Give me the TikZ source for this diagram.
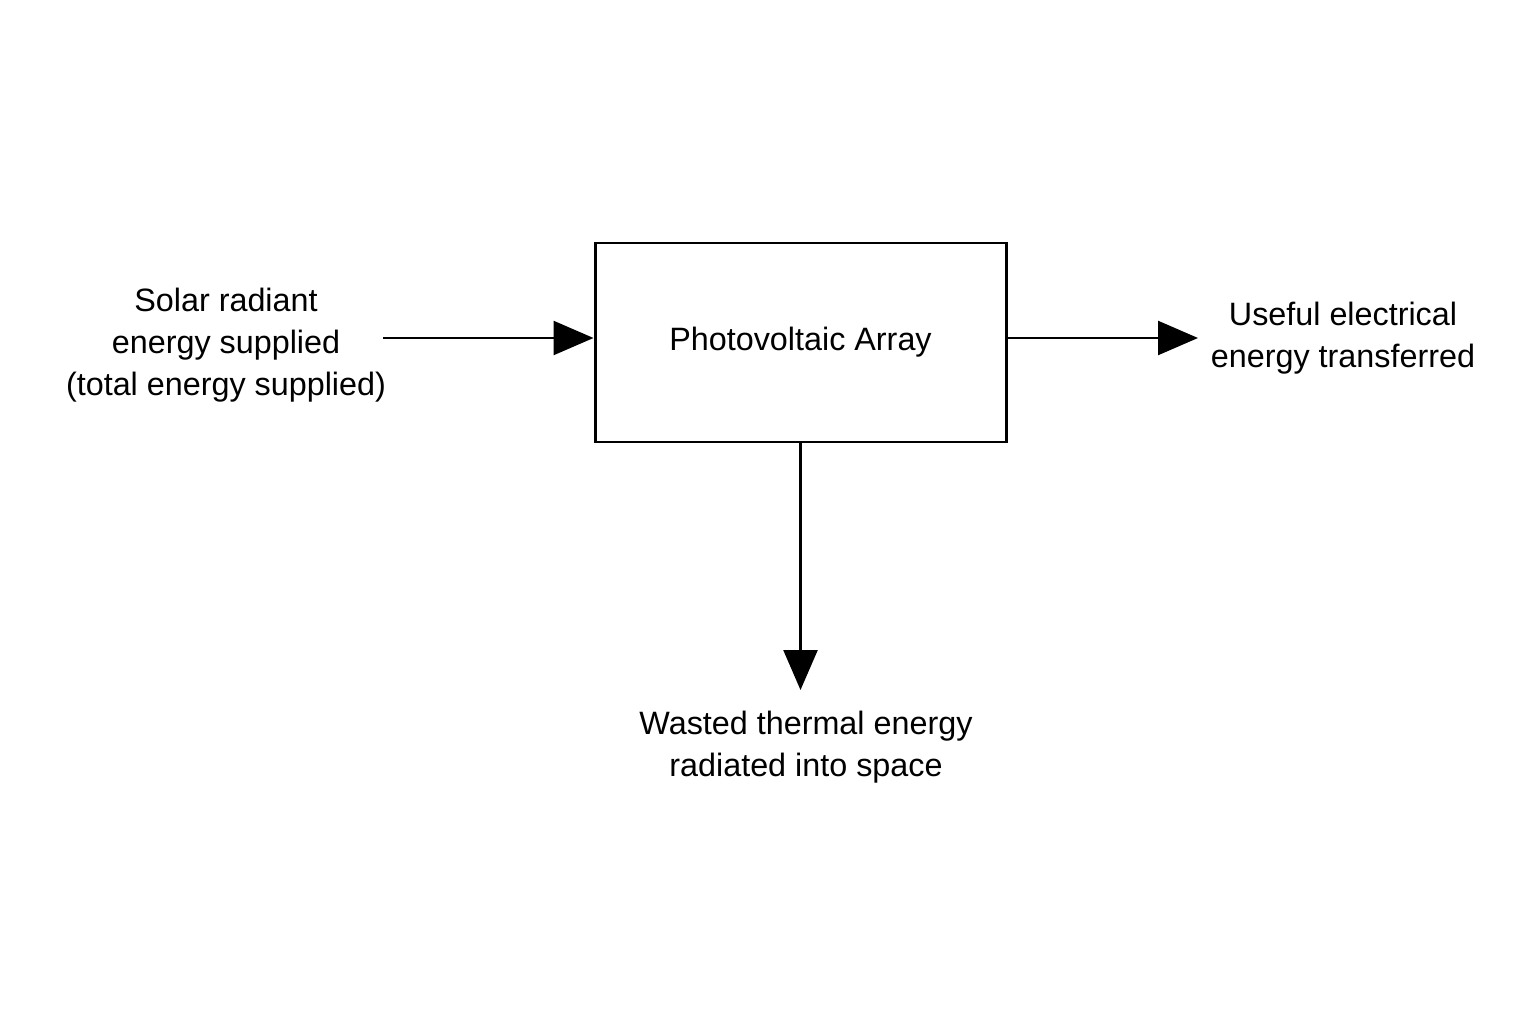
\documentclass[tikz,border=0pt]{standalone}
\usepackage{fontspec}
\setmainfont{Liberation Sans}
\usetikzlibrary{arrows.meta}
\begin{document}
\begin{tikzpicture}[
       line width=0.7pt,
       flow/.style={
         -{Triangle[length=0.4cm,width=0.34cm]}
       },
       label/.style={
         align=center,
         font=\fontsize{9.2}{12}\selectfont
       }
     ]
       \useasboundingbox (0,0) rectangle (15.36,10.24);

       \node (array) at (8.005,6.815) [draw,line width=0.85pt,minimum width=4.11cm,minimum height=1.99cm,label]{Photovoltaic Array};

       \node (solar) at (2.26,6.79) [label]{Solar radiant\\energy supplied\\(total energy supplied)};
       \node (useful) at (13.43,6.86) [label]{Useful electrical\\energy transferred};
       \node (waste) at (8.06,2.77) [label]{Wasted thermal energy\\radiated into space};

       \coordinate (in) at (3.83,6.86);
       \coordinate (out) at (11.98,6.86);
       \coordinate (down) at (8.005,3.34);

       \draw[flow] (in) -- (in -| array.west);
       \draw[flow] (array.east |- out) -- (out);
       \draw[flow] (array.south) -- (down);

\end{tikzpicture}
\end{document}
